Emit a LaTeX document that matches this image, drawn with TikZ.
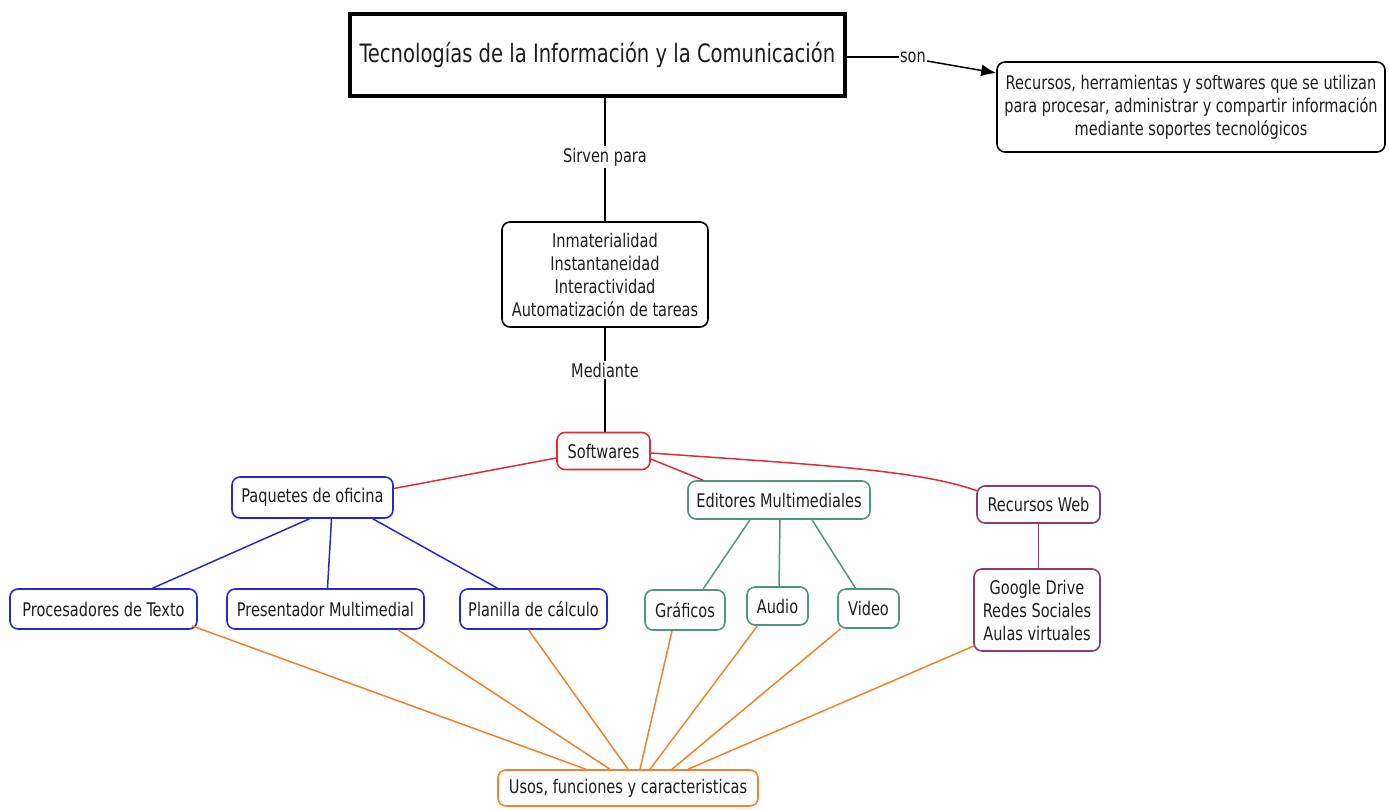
\documentclass[tikz,border=0pt]{standalone}
\usepackage{fontspec}
\setmainfont[FakeStretch=0.86]{DejaVu Sans Condensed}
\usetikzlibrary{arrows.meta,calc}
\definecolor{cred}{RGB}{222,45,55}
\definecolor{cblue}{RGB}{40,40,205}
\definecolor{cgreen}{RGB}{80,150,120}
\definecolor{cpurple}{RGB}{140,60,110}
\definecolor{corange}{RGB}{240,130,45}
\definecolor{ctext}{RGB}{30,30,30}
\tikzset{
  box/.style={draw, rounded corners=8pt, line width=1.6pt, align=center, inner sep=0pt, text=ctext,
    font=\fontsize{18.8}{23}\selectfont},
  lbl/.style={fill=white, inner sep=2pt, text=ctext, font=\fontsize{18.8}{20}\selectfont},
  conn/.style={line width=1.5pt},
}
\begin{document}
\begin{tikzpicture}[x=1pt,y=-1pt]
\useasboundingbox[fill=white] (0,0) rectangle (1389,809);
% title
\node[draw, line width=4.5pt, minimum width=495pt, minimum height=82pt, inner sep=0pt, text=ctext,
  font=\fontsize{25.3}{28}\selectfont] (tic) at (597.5,55) {Tecnologías de la Información y la Comunicación};
\node[box, minimum width=388pt, minimum height=90pt] (def) at (1191,107)
  {Recursos, herramientas y softwares que se utilizan\\para procesar, administrar y compartir información\\mediante soportes tecnológicos};
\node[lbl, inner sep=1pt] (son) at (913,57) {son};
\draw[conn] (tic.east |- son.west) -- (son.west);
\draw[conn, -{Latex[length=15pt,width=12pt]}] ($(son.east)+(0,4)$) -- (def.north west |- 0,73);
% characteristics
\node[box, minimum width=206pt, minimum height=105pt] (car) at (605,274.5)
  {Inmaterialidad\\Instantaneidad\\Interactividad\\Automatización de tareas};
\node[lbl] (sirven) at (605,157) {Sirven para};
\draw[conn] (tic.south -| sirven) -- (sirven.north);
\draw[conn] (sirven.south) -- (car.north -| sirven);
\node[box, draw=cred, minimum width=93pt, minimum height=37pt] (soft) at (603.5,451) {Softwares};
\node[lbl] (med) at (605,370) {Mediante};
\draw[conn] (car.south -| med) -- (med.north);
\draw[conn] (med.south) -- (soft.north -| med);
% level 2
\node[box, draw=cblue, minimum width=161pt, minimum height=41pt] (paq) at (312.5,497.5) {Paquetes de oficina};
\node[box, draw=cgreen, minimum width=182pt, minimum height=38pt] (edi) at (779,500) {Editores Multimediales};
\node[box, draw=cpurple, minimum width=123pt, minimum height=37pt] (web) at (1038.5,504.5) {Recursos Web};
\draw[conn, cred] ($(soft.west)+(0,7)$) -- ($(paq.east)+(0,-9)$);
\draw[conn, cred] ($(soft.east)+(0,8)$) -- ($(edi.north west)+(16,0)$);
\draw[conn, cred] ($(soft.east)+(0,2)$) .. controls (820,465) and (920,470) .. ($(web.north west)+(2,6)$);
% level 3 blue
\node[box, draw=cblue, minimum width=187pt, minimum height=40pt] (pro) at (103.5,609) {Procesadores de Texto};
\node[box, draw=cblue, minimum width=197pt, minimum height=40pt] (pre) at (325.5,609) {Presentador Multimedial};
\node[box, draw=cblue, minimum width=147pt, minimum height=40pt] (pla) at (533.5,609) {Planilla de cálculo};
\draw[conn, cblue] ($(paq.south)+(-3,0)$) -- ($(pro.north)+(49,0)$);
\draw[conn, cblue] ($(paq.south)+(19,0)$) -- ($(pre.north)+(2,0)$);
\draw[conn, cblue] ($(paq.south east)+(-21,0)$) -- ($(pla.north)+(-36,0)$);
% level 3 green
\node[box, draw=cgreen, minimum width=80pt, minimum height=40pt] (gra) at (685,610) {Gráficos};
\node[box, draw=cgreen, minimum width=61pt, minimum height=38pt] (aud) at (777.5,606) {Audio};
\node[box, draw=cgreen, minimum width=61pt, minimum height=39pt] (vid) at (868.5,608.5) {Video};
\draw[conn, cgreen] ($(edi.south)+(-29,0)$) -- ($(gra.north)+(18,0)$);
\draw[conn, cgreen] ($(edi.south)+(1,0)$) -- ($(aud.north)+(1.5,0)$);
\draw[conn, cgreen] ($(edi.south)+(33,0)$) -- ($(vid.north)+(-13,0)$);
% level 3 purple
\node[box, draw=cpurple, minimum width=126pt, minimum height=82pt] (ggl) at (1037,610)
  {Google Drive\\Redes Sociales\\Aulas virtuales};
\draw[conn, cpurple] (web.south) -- (web.south |- ggl.north);
% bottom
\node[box, draw=corange, minimum width=260pt, minimum height=36pt] (uso) at (628,788) {Usos, funciones y caracteristicas};
\draw[conn, corange] ($(pro.south east)+(-6,-4)$) -- ($(uso.north)+(-42,0)$);
\draw[conn, corange] ($(pre.south east)+(-27,0)$) -- ($(uso.north)+(-18,0)$);
\draw[conn, corange] ($(pla.south)+(-5,0)$) -- ($(uso.north)+(0,0)$);
\draw[conn, corange] ($(gra.south)+(-13,0)$) -- ($(uso.north)+(12,0)$);
\draw[conn, corange] ($(aud.south)+(-20,0)$) -- ($(uso.north)+(22,0)$);
\draw[conn, corange] ($(vid.south)+(-28,0)$) -- ($(uso.north)+(44,0)$);
\draw[conn, corange] ($(ggl.south west)+(1,-6)$) -- ($(uso.north)+(60,0)$);
\end{tikzpicture}
\end{document}
